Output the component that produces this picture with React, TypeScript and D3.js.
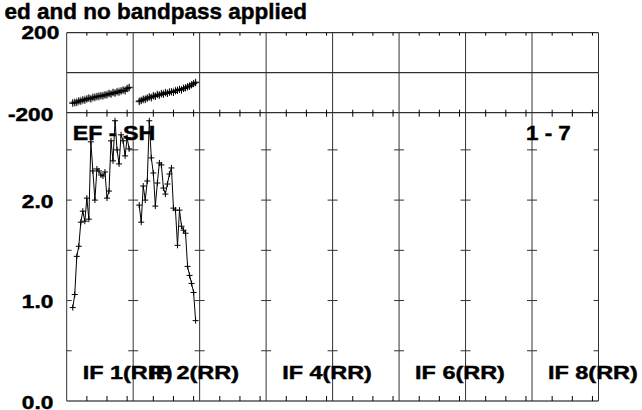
import React from "react";
import * as d3 from "d3";

const CHANNELS = [3, 4, 5, 6, 7, 8, 9, 10, 11, 12, 13, 14, 15, 16, 17, 18, 19, 20, 21, 22, 23, 24, 25, 26, 27, 28, 29, 30, 31];

const AMP_IF1 = [0.93, 1.06, 1.44, 1.54, 1.78, 1.89, 1.79, 2.02, 1.81, 2.58, 2.29, 2.0, 2.31, 2.29, 2.25, 2.24, 2.28, 2.02, 2.09, 2.59, 2.39, 2.79, 2.5, 2.36, 2.65, 2.59, 2.44, 2.62, 2.51];
const AMP_IF2 = [1.95, 1.78, 2.14, 2.0, 2.19, 2.79, 2.42, 2.27, 1.94, 2.17, 2.37, 2.35, 2.12, 2.06, 2.16, 2.26, 2.32, 1.92, 1.9, 1.55, 1.9, 1.74, 1.7, 1.67, 1.34, 1.25, 1.17, 1.08, 0.8];

const PHASE_IF1 = [-153, -148, -150, -140, -143, -135, -138, -130, -128, -132, -122, -125, -118, -120, -115, -117, -110, -112, -105, -108, -100, -103, -96, -98, -90, -88, -92, -80, -75];
const PHASE_IF2 = [-145, -140, -132, -135, -126, -122, -126, -116, -119, -110, -113, -106, -108, -100, -104, -98, -95, -99, -91, -89, -84, -87, -79, -76, -70, -68, -61, -55, -50];
const PHASE_IF1_B = [-147, -152, -143, -146, -137, -140, -132, -134, -125, -128, -127, -119, -122, -113, -116, -111, -114, -106, -102, -104, -97, -99, -93, -91, -95, -85, -84, -77, -72];
const PHASE_IF2_B = [-140, -137, -136, -128, -130, -119, -121, -113, -114, -107, -109, -102, -103, -97, -100, -94, -97, -92, -88, -86, -81, -83, -76, -74, -72, -64, -60, -53, -46];

const IF_COUNT = 8;
const IF_LABELS = ["IF 1(RR)", "IF 2(RR)", "IF 4(RR)", "IF 6(RR)", "IF 8(RR)"];
const IF_LABEL_PANELS = [0, 1, 3, 5, 7];
const X_TICKS = [10, 20, 30];
const PHASE_DOMAIN = [-200, 200];
const PHASE_TICK_LABELS = ["200", "-200"];
const AMP_TICKS = [0.5, 1.0, 1.5, 2.0, 2.5];
const AMP_LABELS = ["2.0", "1.0", "0.0"];
const AMP_LABEL_VALUES = [2.0, 1.0, 0.0];
const TITLE = "ed and no bandpass applied";
const BASELINE_LABEL = "EF - SH";
const PAGE_LABEL = "1 - 7";

const FONT = "'Liberation Sans', Arial, Helvetica, sans-serif";

function T({ x, y, anchor = "start", size, sx = 1, children }: any) {
  return (
    <g transform={`translate(${x},${y}) scale(${sx},1)`}>
      <text textAnchor={anchor} fontSize={size} fontWeight="bold" fontFamily={FONT} fill="#000" stroke="#000" strokeWidth={0.45}>
        {children}
      </text>
    </g>
  );
}

function Cross({ x, y, color = "#000", s = 3 }: any) {
  return (
    <path d={`M${x - s},${y}H${x + s}M${x},${y - s}V${y + s}`} stroke={color} strokeWidth={1} fill="none" />
  );
}

export default function App() {
  const W = 642, H = 410;
  const X0 = 66.7, X1 = 598.5;
  const TOP = 32.7, MID = 112.7, BOT = 401;
  const pw = (X1 - X0) / IF_COUNT;

  const xScales = d3.range(IF_COUNT).map((i) =>
    d3.scaleLinear().domain([0, 33]).range([X0 + i * pw, X0 + (i + 1) * pw])
  );
  const yPh = d3.scaleLinear().domain(PHASE_DOMAIN).range([MID, TOP]);
  const yAmp = d3.scaleLinear().domain([0, 2.87]).range([BOT, MID]);

  const series = [
    { panel: 0, amp: AMP_IF1, ph: PHASE_IF1, phB: PHASE_IF1_B },
    { panel: 1, amp: AMP_IF2, ph: PHASE_IF2, phB: PHASE_IF2_B },
  ];

  const elems: any[] = [];

  elems.push(<line key="top" x1={X0} x2={X1} y1={TOP} y2={TOP} stroke="#000" />);
  elems.push(<line key="mid" x1={X0} x2={X1} y1={MID} y2={MID} stroke="#000" />);
  elems.push(<line key="bot" x1={X0} x2={X1} y1={BOT} y2={BOT} stroke="#000" />);
  elems.push(<line key="zero" x1={X0} x2={X1} y1={yPh(0)} y2={yPh(0)} stroke="#000" />);
  for (let i = 0; i <= IF_COUNT; i++) {
    const x = X0 + i * pw;
    elems.push(<line key={"v" + i} x1={x} x2={x} y1={TOP} y2={BOT} stroke="#333" />);
    AMP_TICKS.forEach((v, j) => {
      const y = yAmp(v);
      const l = i === 0 ? 0 : 5;
      const r = i === IF_COUNT ? 0 : 5;
      elems.push(<line key={`at${i}-${j}`} x1={x - l} x2={x + r} y1={y} y2={y} stroke="#333" />);
    });
  }
  xScales.forEach((xs, i) => {
    X_TICKS.forEach((t) => {
      const x = xs(t);
      elems.push(<line key={`tt${i}-${t}`} x1={x} x2={x} y1={TOP} y2={TOP + 3} stroke="#000" />);
      elems.push(<line key={`mt${i}-${t}`} x1={x} x2={x} y1={MID - 3} y2={MID + 4} stroke="#000" />);
      elems.push(<line key={`bt${i}-${t}`} x1={x} x2={x} y1={BOT - 5} y2={BOT} stroke="#000" />);
    });
  });

  series.forEach((s) => {
    const xs = xScales[s.panel];
    const ampLine = d3.line<number>().x((_, k) => xs(CHANNELS[k])).y((d) => yAmp(d));
    const phLine = d3.line<number>().x((_, k) => xs(CHANNELS[k])).y((d) => yPh(d));
    elems.push(<path key={`phB${s.panel}`} d={phLine(s.phB) || ""} stroke="#777" fill="none" strokeWidth={1} />);
    s.phB.forEach((d, k) => elems.push(<Cross key={`pbc${s.panel}-${k}`} x={xs(CHANNELS[k])} y={yPh(d)} color="#777" s={3.5} />));
    elems.push(<path key={`ph${s.panel}`} d={phLine(s.ph) || ""} stroke="#000" fill="none" strokeWidth={1} />);
    s.ph.forEach((d, k) => elems.push(<Cross key={`pc${s.panel}-${k}`} x={xs(CHANNELS[k])} y={yPh(d)} s={3.5} />));
    elems.push(<path key={`amp${s.panel}`} d={ampLine(s.amp) || ""} stroke="#000" fill="none" strokeWidth={1} />);
    s.amp.forEach((d, k) => elems.push(<Cross key={`ac${s.panel}-${k}`} x={xs(CHANNELS[k])} y={yAmp(d)} />));
  });

  return (
    <svg width={W} height={H} style={{ position: "absolute", left: 0, top: 0, background: "#fff" }}>
      <rect width={W} height={H} fill="#fff" />
      {elems}
      <T x={307} y={19} anchor="end" size={22.5}>{TITLE}</T>
      <T x={59.3} y={yPh(PHASE_DOMAIN[1]) + 6.2} anchor="end" size={17.7} sx={1.28}>{PHASE_TICK_LABELS[0]}</T>
      <T x={53.3} y={yPh(PHASE_DOMAIN[0]) + 8} anchor="end" size={17.7} sx={1.28}>{PHASE_TICK_LABELS[1]}</T>
      {AMP_LABELS.map((l, i) => (
        <T key={l} x={53.3} y={yAmp(AMP_LABEL_VALUES[i]) + 7.5} anchor="end" size={17.7} sx={1.28}>{l}</T>
      ))}
      <T x={72.7} y={139.5} size={20} sx={1.16}>{BASELINE_LABEL}</T>
      <T x={526} y={139.5} size={20} sx={1.12}>{PAGE_LABEL}</T>
      {IF_LABELS.map((l, i) => (
        <T key={l} x={X0 + IF_LABEL_PANELS[i] * pw + 16} y={378.5} size={18.6} sx={1.26}>{l}</T>
      ))}
    </svg>
  );
}
